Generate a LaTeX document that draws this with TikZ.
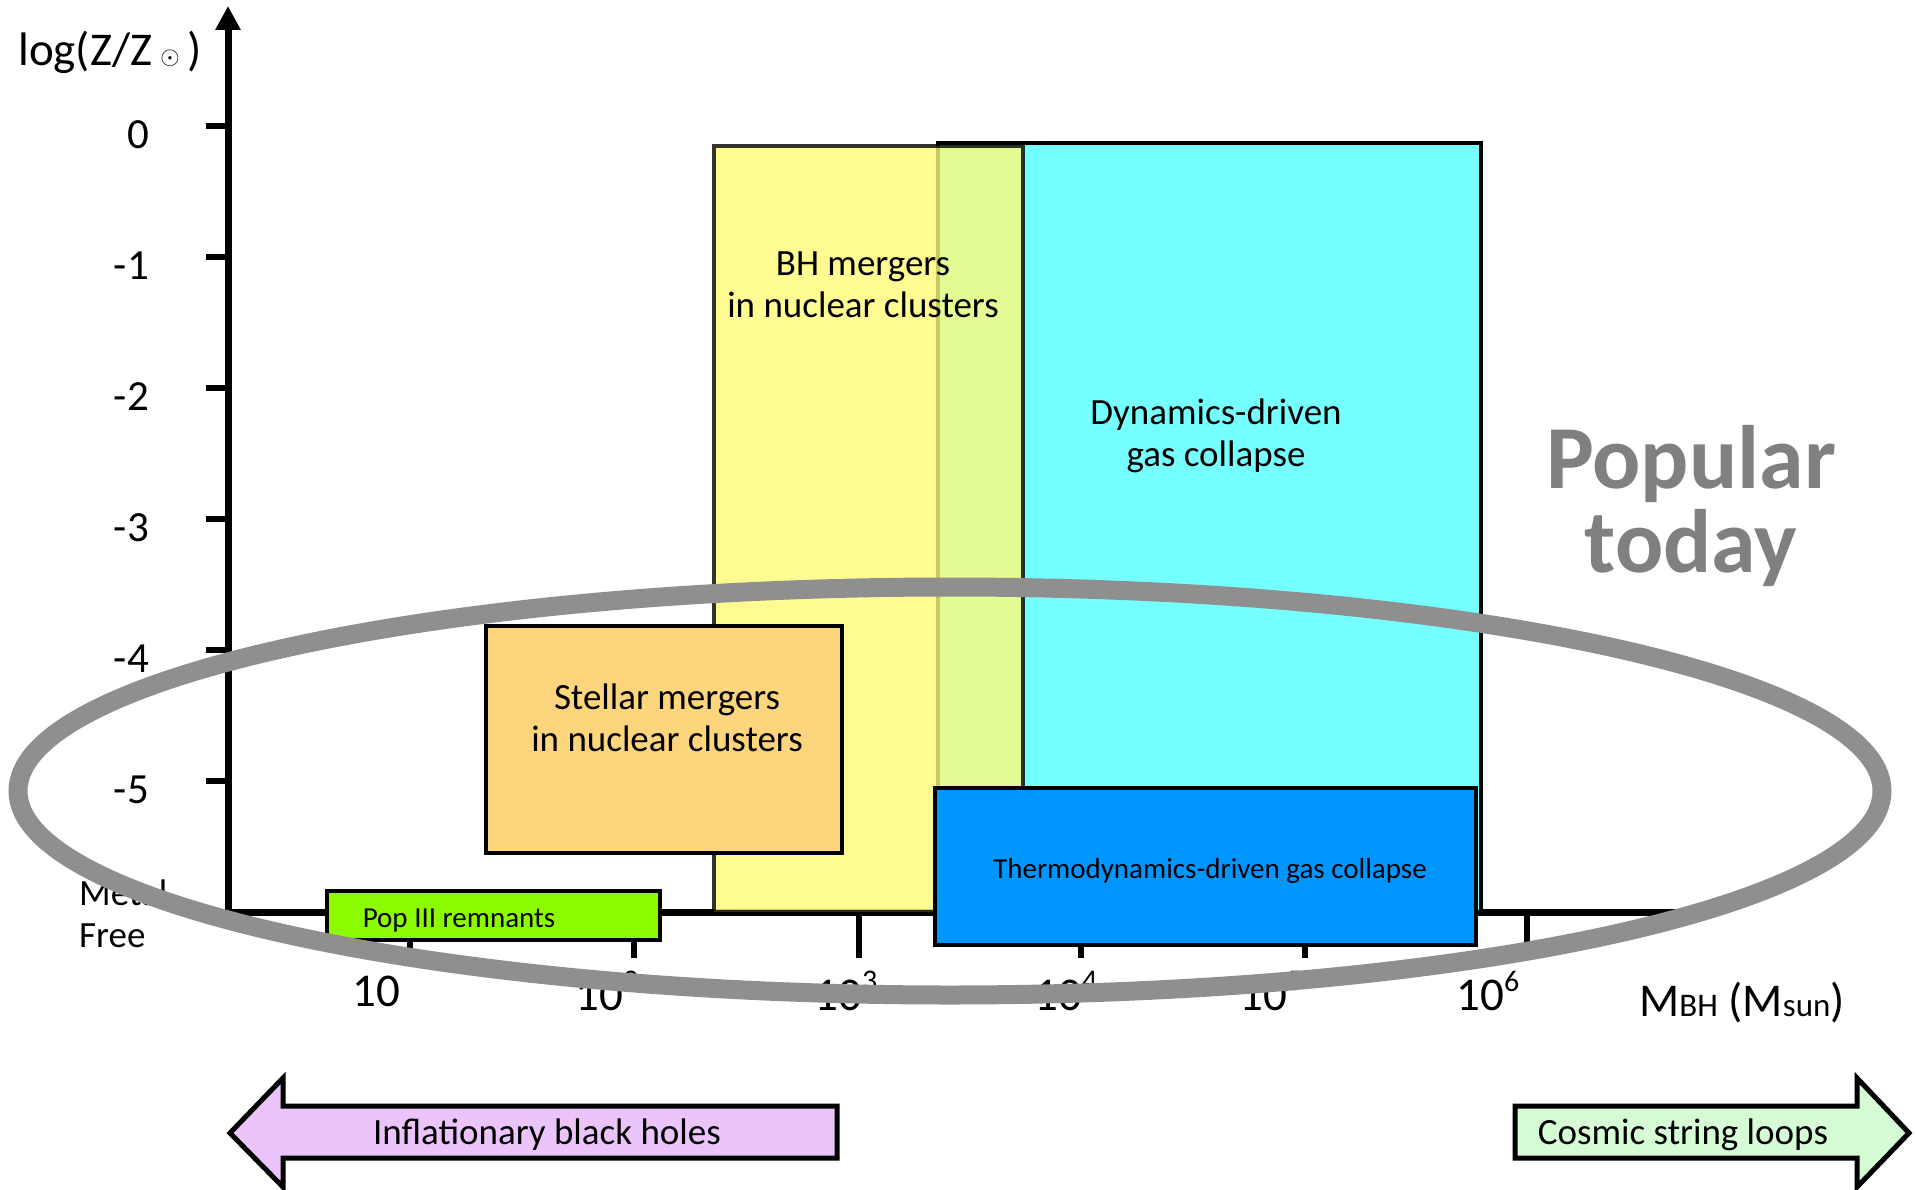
\documentclass[tikz,border=0pt]{standalone}
\usepackage{fontspec}
\setmainfont{Carlito}
\usetikzlibrary{arrows.meta}
\definecolor{cyanbox}{RGB}{117,255,255}
\definecolor{yellowbox}{RGB}{255,251,121}
\definecolor{orangebox}{RGB}{253,213,125}
\definecolor{greenbox}{RGB}{141,251,0}
\definecolor{bluebox}{RGB}{0,150,255}
\definecolor{lavender}{RGB}{236,196,252}
\definecolor{mint}{RGB}{214,252,214}
\definecolor{ringgray}{RGB}{143,143,143}
\definecolor{popgray}{RGB}{128,128,128}
\newcommand\fsMain{\fontsize{37}{42}\selectfont}
\newcommand\fsSmallTxt{\fontsize{29}{34}\selectfont}
\newcommand\fsTick{\fontsize{43}{48}\selectfont}
\newcommand\fsXTick{\fontsize{47}{52}\selectfont}
\newcommand\fsSup{\fontsize{30}{32}\selectfont}
\newcommand\xpow[1]{10\raisebox{0.42em}{\fsSup #1}}
\begin{document}
\begin{tikzpicture}[x=1pt,y=-1pt,
  axisline/.style={line width=7pt,black},
  tickline/.style={line width=6pt,black},
  boxline/.style={line width=4pt,black,line join=miter},
  txt/.style={inner sep=0pt,align=center,font=\fsMain},
  ticklab/.style={inner sep=0pt,anchor=east,font=\fsTick},
  xticklab/.style={inner sep=0pt,font=\fsXTick},
  bigarrow/.style={line width=5pt,black,line join=miter}]
\useasboundingbox (0,0) rectangle (1916,1190);
\fill[white] (0,0) rectangle (1916,1190);

% axes
\coordinate (yaxisbottom) at (228,915);
\coordinate (yaxistop) at (228,6);
\coordinate (xaxisleft) at (225,912);
\coordinate (xaxisright) at (1700,912);
\draw[axisline,-{Triangle[width=24pt,length=24pt]}] (yaxisbottom) -- (yaxistop);
\draw[axisline] (xaxisleft) -- (xaxisright);

% y ticks
\foreach \yy/\lab [count=\i] in {126/0,257/-1,388/-2,519/-3,650/-4,781/-5}{
  \draw[tickline] (206,\yy) -- (228,\yy);
  \node[ticklab] (ylab\i) at (149,\yy+9) {\lab};
}
% x ticks
\foreach \xx in {410,634,859,1081,1305,1527}{
  \draw[tickline] (\xx,912) -- (\xx,958);
}
\node[xticklab] (xlab1) at (376,991) {10};
\node[xticklab] (xlab2) at (607,991) {\xpow{2}};
\node[xticklab] (xlab3) at (846,991) {\xpow{3}};
\node[xticklab] (xlab4) at (1066,991) {\xpow{4}};
\node[xticklab] (xlab5) at (1271,991) {\xpow{5}};
\node[xticklab] (xlab6) at (1488,991) {\xpow{6}};

% axis labels
\node[inner sep=0pt,font=\fontsize{47}{52}\selectfont] (ylabel) at (110,52)
  {log(Z/Z\,\raisebox{0.02em}{\fontsize{24}{24}\selectfont$\odot$}\,)};
\node[inner sep=0pt,font=\fontsize{47}{52}\selectfont] (xlabel) at (1742,1003)
  {M{\fontsize{33}{33}\selectfont BH} (M{\fontsize{33}{33}\selectfont sun})};
\node[inner sep=0pt,align=left,anchor=west,font=\fsMain] (metalfree) at (79,914) {Metal\\Free};

% boxes
\draw[boxline,fill=cyanbox] (938,143) rectangle (1481,912);
\draw[boxline,fill=yellowbox,fill opacity=0.8,draw opacity=0.8] (714,146) rectangle (1023,912);
\draw[boxline,fill=orangebox] (486,626) rectangle (842,853);
\draw[boxline,fill=greenbox] (327,891) rectangle (660,940);
\draw[boxline,fill=bluebox] (935,788) rectangle (1476,945);

\node[txt] (bh) at (863,285) {BH mergers\\in nuclear clusters};
\node[txt] (dyn) at (1216,436) {Dynamics-driven\\gas collapse};
\node[txt] (stellar) at (667,718) {Stellar mergers\\in nuclear clusters};
\node[txt,font=\fsSmallTxt] (thermo) at (1210,871) {Thermodynamics-driven gas collapse};
\node[txt,font=\fsSmallTxt] (pop3) at (459,921) {Pop III remnants};

\node[txt,text=popgray,font=\fontsize{90}{84}\selectfont\bfseries] (popular) at (1691,506) {Popular\\today};

% bottom arrows
\draw[bigarrow,fill=lavender] (230,1133) -- (283,1078) -- (283,1106) -- (837,1106)
  -- (837,1158) -- (283,1158) -- (283,1187) -- cycle;
\node[txt] (infl) at (547,1135) {Inflationary black holes};
\draw[bigarrow,fill=mint] (1515,1106) -- (1857,1106) -- (1857,1078) -- (1909,1133)
  -- (1857,1187) -- (1857,1158) -- (1515,1158) -- cycle;
\node[txt] (cosmic) at (1683,1135) {Cosmic string loops};

% ring
\draw[ringgray,line width=19pt] (950,791) ellipse [x radius=932, y radius=204];
\end{tikzpicture}
\end{document}
